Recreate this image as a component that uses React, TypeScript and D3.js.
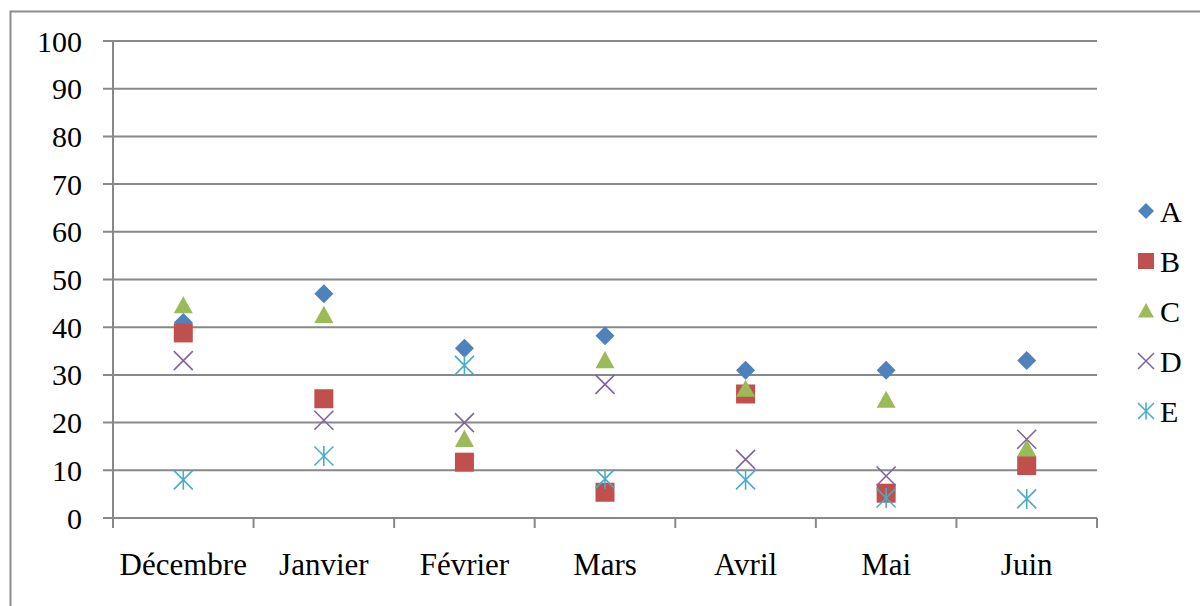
import React from "react";
import * as d3 from "d3";

const categories = ["Décembre", "Janvier", "Février", "Mars", "Avril", "Mai", "Juin"];
const seriesNames = ["A", "B", "C", "D", "E"];
const valuesA = [41, 47, 35.6, 38.2, 31, 31, 33];
const valuesB = [38.8, 25, 11.7, 5.4, 26, 5.2, 11];
const valuesC = [44.5, 42.5, 16.5, 33, 27, 24.7, 14.5];
const valuesD = [33, 20.5, 20, 28, 12.3, 8.8, 16.5];
const valuesE = [8, 13, 32, 8.2, 8, 4.2, 4];
const yTicks = [0, 10, 20, 30, 40, 50, 60, 70, 80, 90, 100];

const colors = ["#4F81BD", "#C0504D", "#9BBB59", "#8064A2", "#4BACC6"];
const shapes = ["diamond", "square", "triangle", "x", "star"];

const W = 1200;
const H = 606;
const left = 113;
const right = 1097;
const top = 41;
const bottom = 518;
const font = "'Liberation Serif', 'Times New Roman', serif";

function Marker({ shape, color, cx, cy, s }: { shape: string; color: string; cx: number; cy: number; s: number }) {
  const h = s / 2;
  if (shape === "diamond") {
    return <path d={`M${cx},${cy - h} L${cx + h},${cy} L${cx},${cy + h} L${cx - h},${cy} Z`} fill={color} />;
  }
  if (shape === "square") {
    return <rect x={cx - h} y={cy - h} width={s} height={s} fill={color} />;
  }
  if (shape === "triangle") {
    return <path d={`M${cx},${cy - h} L${cx + h},${cy + h * 0.8} L${cx - h},${cy + h * 0.8} Z`} fill={color} />;
  }
  if (shape === "x") {
    return (
      <path d={`M${cx - h},${cy - h} L${cx + h},${cy + h} M${cx - h},${cy + h} L${cx + h},${cy - h}`} stroke={color} strokeWidth={1.6} fill="none" />
    );
  }
  return (
    <path
      d={`M${cx - h},${cy - h} L${cx + h},${cy + h} M${cx - h},${cy + h} L${cx + h},${cy - h} M${cx},${cy - h * 1.05} L${cx},${cy + h * 1.05}`}
      stroke={color}
      strokeWidth={1.6}
      fill="none"
    />
  );
}

export default function App() {
  const series = [valuesA, valuesB, valuesC, valuesD, valuesE];
  const x = d3.scaleBand<string>().domain(categories).range([left, right]);
  const y = d3.scaleLinear().domain([0, 100]).range([bottom, top]);
  const boundaries = d3.range(categories.length + 1).map((i) => left + i * x.step());

  return (
    <svg width={W} height={H} style={{ position: "absolute", left: 0, top: 0, display: "block" }}>
      <rect x={0} y={0} width={W} height={H} fill="#fff" />
      <path d={`M10.5,${H} L10.5,11.5 L${W},11.5`} fill="none" stroke="#8c8c8c" strokeWidth={2} />
      {yTicks.map((t) => (
        <g key={t}>
          <line x1={103} x2={right} y1={y(t)} y2={y(t)} stroke="#888" strokeWidth={2} />
          <text x={82} y={y(t)} dy="0.35em" textAnchor="end" fontFamily={font} fontSize={30} fill="#000">
            {t}
          </text>
        </g>
      ))}
      <line x1={left} x2={left} y1={top} y2={bottom + 10} stroke="#888" strokeWidth={2} />
      {boundaries.slice(1).map((b, i) => (
        <line key={i} x1={b} x2={b} y1={bottom} y2={bottom + 10} stroke="#888" strokeWidth={2} />
      ))}
      {categories.map((c) => (
        <text key={c} x={(x(c) as number) + x.bandwidth() / 2} y={575} textAnchor="middle" fontFamily={font} fontSize={31} fill="#000">
          {c}
        </text>
      ))}
      {series.map((vals, si) => (
        <g key={si}>
          {vals.map((v, i) => (
            <Marker
              key={i}
              shape={shapes[si]}
              color={colors[si]}
              cx={(x(categories[i]) as number) + x.bandwidth() / 2}
              cy={y(v)}
              s={19}
            />
          ))}
        </g>
      ))}
      {seriesNames.map((n, i) => (
        <g key={n}>
          <Marker shape={shapes[i]} color={colors[i]} cx={1146} cy={211 + i * 50} s={16} />
          <text x={1160} y={211 + i * 50} dy="0.35em" fontFamily={font} fontSize={30} fill="#000">
            {n}
          </text>
        </g>
      ))}
    </svg>
  );
}
